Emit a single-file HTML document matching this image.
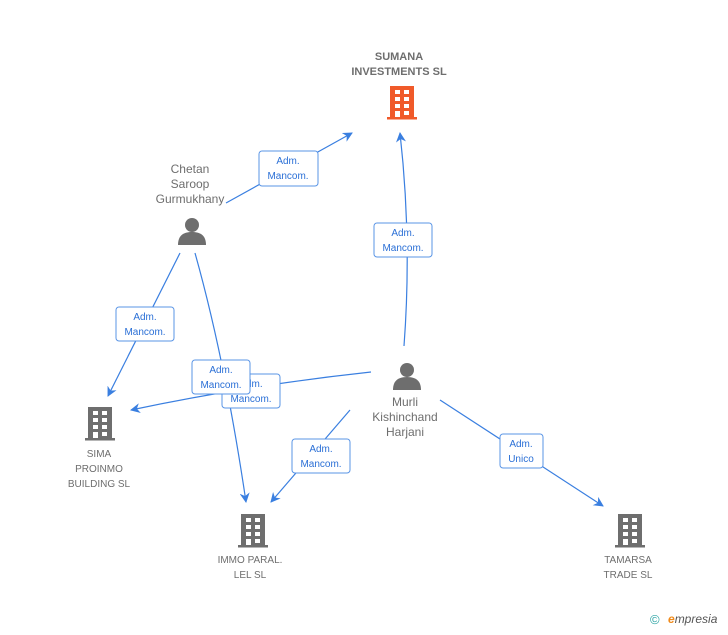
<!DOCTYPE html>
<html><head><style>
body{margin:0;background:#fff;}
svg text{font-family:"Liberation Sans",sans-serif;}
</style></head><body>
<svg width="728" height="630" viewBox="0 0 728 630" xmlns="http://www.w3.org/2000/svg">
<defs>
<marker id="a" markerWidth="10" markerHeight="10" refX="9" refY="5" orient="auto" markerUnits="userSpaceOnUse">
<path d="M0,0 L10,5 L0,10 L3,5 z" fill="#3a7fe0"/></marker>
<g id="bld">
<rect x="3" y="0" width="24" height="32"/>
<rect x="0" y="31" width="30" height="2.5"/>
</g>
<g id="win" fill="#fff">
<rect x="8" y="4" width="5" height="4"/><rect x="17" y="4" width="5" height="4"/>
<rect x="8" y="11" width="5" height="4"/><rect x="17" y="11" width="5" height="4"/>
<rect x="8" y="18" width="5" height="4"/><rect x="17" y="18" width="5" height="4"/>
<rect x="8" y="25" width="5" height="6"/><rect x="17" y="25" width="5" height="4"/>
</g>
<g id="per" fill="#6e6e6e">
<circle cx="14" cy="8" r="7"/>
<path d="M0,28 C0,18 6,15 14,15 C22,15 28,18 28,28 z"/>
</g>
</defs>
<g stroke="#3a7fe0" stroke-width="1.2" fill="none">
<line x1="226" y1="203" x2="352" y2="133" marker-end="url(#a)"/>
<path d="M404,346 Q412,240 400,133" marker-end="url(#a)"/>
<line x1="180" y1="253" x2="108" y2="396" marker-end="url(#a)"/>
<path d="M195,253 Q225,360 246,502" marker-end="url(#a)"/>
<path d="M371,372 Q250,385 131,410" marker-end="url(#a)"/>
<line x1="350" y1="410" x2="271" y2="502" marker-end="url(#a)"/>
<line x1="440" y1="400" x2="603" y2="506" marker-end="url(#a)"/>
</g>
<g font-size="10" fill="#2a6fd6" text-anchor="middle">
<rect x="259" y="151" width="59" height="35" rx="3" fill="#fff" stroke="#5a95e6"/>
<text x="288" y="164">Adm.</text><text x="288" y="179">Mancom.</text>
<rect x="374" y="223" width="58" height="34" rx="3" fill="#fff" stroke="#5a95e6"/>
<text x="403" y="236">Adm.</text><text x="403" y="251">Mancom.</text>
<rect x="116" y="307" width="58" height="34" rx="3" fill="#fff" stroke="#5a95e6"/>
<text x="145" y="320">Adm.</text><text x="145" y="335">Mancom.</text>
<rect x="222" y="374" width="58" height="34" rx="3" fill="#fff" stroke="#5a95e6"/>
<text x="251" y="387">Adm.</text><text x="251" y="402">Mancom.</text>
<rect x="192" y="360" width="58" height="34" rx="3" fill="#fff" stroke="#5a95e6"/>
<text x="221" y="373">Adm.</text><text x="221" y="388">Mancom.</text>
<rect x="292" y="439" width="58" height="34" rx="3" fill="#fff" stroke="#5a95e6"/>
<text x="321" y="452">Adm.</text><text x="321" y="467">Mancom.</text>
<rect x="500" y="434" width="43" height="34" rx="3" fill="#fff" stroke="#5a95e6"/>
<text x="521" y="447">Adm.</text><text x="521" y="462">Unico</text>
</g>
<g fill="#f05a2a" transform="translate(387,86)"><use href="#bld"/><use href="#win"/></g>
<g fill="#6e6e6e" transform="translate(85,407)"><use href="#bld"/><use href="#win"/></g>
<g fill="#6e6e6e" transform="translate(238,514)"><use href="#bld"/><use href="#win"/></g>
<g fill="#6e6e6e" transform="translate(615,514)"><use href="#bld"/><use href="#win"/></g>
<use href="#per" transform="translate(178,217)"/>
<use href="#per" transform="translate(393,362)"/>
<g font-size="11" fill="#6e6e6e" text-anchor="middle">
<text x="399" y="60" font-weight="bold">SUMANA</text>
<text x="399" y="75" font-weight="bold">INVESTMENTS SL</text>
<text x="190" y="173" font-size="12">Chetan</text>
<text x="190" y="188" font-size="12">Saroop</text>
<text x="190" y="203" font-size="12">Gurmukhany</text>
<text x="405" y="406" font-size="12">Murli</text>
<text x="405" y="421" font-size="12">Kishinchand</text>
<text x="405" y="436" font-size="12">Harjani</text>
<text x="99" y="457" font-size="10">SIMA</text>
<text x="99" y="472" font-size="10">PROINMO</text>
<text x="99" y="487" font-size="10">BUILDING SL</text>
<text x="250" y="563" font-size="10">IMMO PARAL.</text>
<text x="250" y="578" font-size="10">LEL SL</text>
<text x="628" y="563" font-size="10">TAMARSA</text>
<text x="628" y="578" font-size="10">TRADE SL</text>
</g>
<text x="650" y="624" font-size="13" fill="#2aa3a3">©</text>
<text x="668" y="623" font-size="12" fill="#555" font-style="italic"><tspan fill="#f08a1a" font-weight="bold">e</tspan>mpresia</text>
</svg>
</body></html>
